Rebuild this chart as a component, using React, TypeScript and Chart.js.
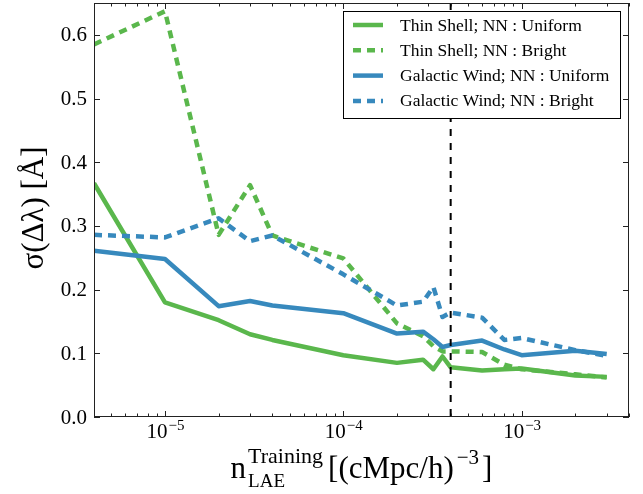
import { useEffect, useRef } from "react";
import { Chart, registerables } from "chart.js";

Chart.register(...registerables);

// ---- data ----
const densities = [4e-6, 1e-5, 2e-5, 3e-5, 4e-5, 1e-4, 2e-4, 2.8e-4, 3.2e-4, 3.6e-4, 4e-4, 6e-4, 8e-4, 1e-3, 2e-3, 3e-3];
const thinShellUniform = [0.367, 0.180, 0.152, 0.130, 0.121, 0.097, 0.085, 0.090, 0.075, 0.095, 0.078, 0.073, 0.075, 0.076, 0.065, 0.063];
const thinShellBright = [0.585, 0.637, 0.286, 0.364, 0.285, 0.249, 0.147, 0.127, 0.111, 0.103, 0.103, 0.102, 0.082, 0.075, 0.067, 0.062];
const galacticWindUniform = [0.261, 0.248, 0.174, 0.182, 0.175, 0.163, 0.131, 0.134, 0.122, 0.110, 0.113, 0.120, 0.106, 0.097, 0.104, 0.099];
const galacticWindBright = [0.286, 0.282, 0.312, 0.276, 0.285, 0.224, 0.175, 0.181, 0.204, 0.157, 0.164, 0.156, 0.121, 0.124, 0.105, 0.096];
const seriesLabels = [
  "Thin Shell; NN : Uniform",
  "Thin Shell; NN : Bright",
  "Galactic Wind; NN : Uniform",
  "Galactic Wind; NN : Bright",
];
const yTickValues = [0, 0.1, 0.2, 0.3, 0.4, 0.5, 0.6];
const xMajorTicks = [1e-5, 1e-4, 1e-3];
const xTickExponents = ["\u22125", "\u22124", "\u22123"];
const fiducialDensity = 4e-4;

const GREEN = "#5ab74c";
const BLUE = "#3789bd";
const FONT = '"Liberation Serif", "Times New Roman", serif';

const toPoints = (ys: number[]) => densities.map((x, i) => ({ x, y: ys[i] }));

const decorPlugin = {
  id: "decor",
  afterDatasetsDraw(chart: any) {
    const { ctx, chartArea: a, scales } = chart;
    const xs = scales.x;
    const ys = scales.y;
    ctx.save();
    // fiducial vertical dashed line
    const vx = xs.getPixelForValue(fiducialDensity);
    ctx.beginPath();
    ctx.setLineDash([7, 7]);
    ctx.lineWidth = 2;
    ctx.strokeStyle = "#000";
    ctx.moveTo(vx, a.top);
    ctx.lineTo(vx, a.bottom);
    ctx.stroke();
    ctx.setLineDash([]);

    // frame
    ctx.lineWidth = 1;
    ctx.strokeStyle = "#222";
    ctx.strokeRect(Math.round(a.left) + 0.5, Math.round(a.top) + 0.5, Math.round(a.right - a.left) - 1, Math.round(a.bottom - a.top) - 1);

    // y ticks (inward, both sides)
    ctx.beginPath();
    for (const v of yTickValues) {
      const y = Math.round(ys.getPixelForValue(v)) + 0.5;
      ctx.moveTo(a.left, y);
      ctx.lineTo(a.left + 6, y);
      ctx.moveTo(a.right, y);
      ctx.lineTo(a.right - 6, y);
    }
    // x ticks (major + minor), inward top and bottom
    const lo = Math.floor(Math.log10(xs.min));
    const hi = Math.ceil(Math.log10(xs.max));
    for (let e = lo; e <= hi; e++) {
      for (let m = 1; m <= 9; m++) {
        const v = m * Math.pow(10, e);
        if (v < xs.min * 0.999 || v > xs.max * 1.001) continue;
        const len = m === 1 ? 6 : 3.5;
        const x = Math.round(xs.getPixelForValue(v)) + 0.5;
        ctx.moveTo(x, a.bottom);
        ctx.lineTo(x, a.bottom - len);
        ctx.moveTo(x, a.top);
        ctx.lineTo(x, a.top + len);
      }
    }
    ctx.stroke();

    // y tick labels
    ctx.fillStyle = "#000";
    ctx.font = `21px ${FONT}`;
    ctx.textAlign = "right";
    ctx.textBaseline = "middle";
    for (const v of yTickValues) {
      ctx.fillText(v.toFixed(1), a.left - 7, ys.getPixelForValue(v) + 1);
    }

    // x tick labels: 10^exp
    ctx.textAlign = "left";
    ctx.textBaseline = "alphabetic";
    xMajorTicks.forEach((v, i) => {
      const x = xs.getPixelForValue(v);
      ctx.font = `21px ${FONT}`;
      const w1 = ctx.measureText("10").width;
      ctx.font = `15px ${FONT}`;
      const w2 = ctx.measureText(xTickExponents[i]).width;
      const start = x - (w1 + w2) / 2;
      ctx.font = `21px ${FONT}`;
      ctx.fillText("10", start, a.bottom + 21);
      ctx.font = `15px ${FONT}`;
      ctx.fillText(xTickExponents[i], start + w1 + 1, a.bottom + 13);
    });

    // x axis title: n_LAE^Training [(cMpc/h)^-3]
    ctx.font = `31px ${FONT}`;
    const wN = ctx.measureText("n").width;
    ctx.font = `22px ${FONT}`;
    const wSup = ctx.measureText("Training").width;
    ctx.font = `19px ${FONT}`;
    const wSub = ctx.measureText("LAE").width;
    ctx.font = `31px ${FONT}`;
    const wMain = ctx.measureText("[(cMpc/h)").width;
    ctx.font = `21px ${FONT}`;
    const wExp = ctx.measureText("\u22123").width;
    ctx.font = `31px ${FONT}`;
    const wEnd = ctx.measureText("]").width;
    const gap = 2;
    const total = wN + gap + Math.max(wSup, wSub) + 5 + wMain + 3 + wExp + 3 + wEnd;
    let cx = (a.left + a.right) / 2 - total / 2;
    const base = a.bottom + 61;
    ctx.font = `31px ${FONT}`;
    ctx.fillText("n", cx, base);
    cx += wN + gap;
    ctx.font = `22px ${FONT}`;
    ctx.fillText("Training", cx, base - 15);
    ctx.font = `19px ${FONT}`;
    ctx.fillText("LAE", cx, base + 9);
    cx += Math.max(wSup, wSub) + 5;
    ctx.font = `31px ${FONT}`;
    ctx.fillText("[(cMpc/h)", cx, base);
    cx += wMain + 3;
    ctx.font = `21px ${FONT}`;
    ctx.fillText("\u22123", cx, base - 14);
    cx += wExp + 3;
    ctx.font = `31px ${FONT}`;
    ctx.fillText("]", cx, base);

    // y axis title
    ctx.save();
    ctx.translate(a.left - 51, (a.top + a.bottom) / 2 - 2);
    ctx.rotate(-Math.PI / 2);
    ctx.font = `31px ${FONT}`;
    ctx.textAlign = "center";
    ctx.fillText("\u03c3(\u0394\u03bb) [\u00c5]", 0, 0);
    ctx.restore();
    ctx.restore();
  },
  afterDraw(chart: any) {
    const { ctx, chartArea: a } = chart;
    ctx.save();
    const bx = a.right - 286;
    const by = a.top + 8;
    const bw = 277;
    const bh = 107;
    ctx.fillStyle = "#fff";
    ctx.fillRect(bx, by, bw, bh);
    ctx.strokeStyle = "#000";
    ctx.lineWidth = 1;
    ctx.strokeRect(Math.round(bx) + 0.5, Math.round(by) + 0.5, bw, bh);
    // fit legend font so the widest label spans ~212px
    let size = 20;
    const labels: string[] = chart.data.datasets.map((d: any) => d.label);
    for (; size > 14; size -= 0.25) {
      ctx.font = `${size}px ${FONT}`;
      const w = Math.max(...labels.map((l) => ctx.measureText(l).width));
      if (w <= 212) break;
    }
    chart.data.datasets.forEach((ds: any, i: number) => {
      const y = by + 14 + i * 25.3;
      ctx.beginPath();
      ctx.strokeStyle = ds.borderColor;
      ctx.lineWidth = ds.borderWidth;
      ctx.lineCap = "butt";
      ctx.setLineDash(ds.borderDash || []);
      ctx.moveTo(bx + 10, y);
      ctx.lineTo(bx + 40, y);
      ctx.stroke();
      ctx.setLineDash([]);
      ctx.fillStyle = "#000";
      ctx.font = `${size}px ${FONT}`;
      ctx.textAlign = "left";
      ctx.textBaseline = "middle";
      ctx.fillText(ds.label, bx + 57, y + 1);
    });
    ctx.restore();
  },
};

export default function App() {
  const canvasRef = useRef<HTMLCanvasElement | null>(null);
  useEffect(() => {
    if (!canvasRef.current) return;
    const mk = (i: number, ys: number[], color: string, dashed: boolean, order: number) => ({
      label: seriesLabels[i],
      data: toPoints(ys),
      borderColor: color,
      backgroundColor: color,
      borderWidth: 4.5,
      borderDash: dashed ? [8, 6] : [],
      borderJoinStyle: "round" as const,
      borderCapStyle: "butt" as const,
      pointRadius: 0,
      fill: false,
      tension: 0,
      order,
    });
    const chart = new Chart(canvasRef.current, {
      type: "line",
      data: {
        datasets: [
          mk(0, thinShellUniform, GREEN, false, 4),
          mk(1, thinShellBright, GREEN, true, 3),
          mk(2, galacticWindUniform, BLUE, false, 2),
          mk(3, galacticWindBright, BLUE, true, 1),
        ],
      },
      options: {
        animation: false,
        responsive: false,
        devicePixelRatio: 1,
        layout: { padding: { left: 0, top: 3, right: 14, bottom: 0 } },
        plugins: { legend: { display: false }, tooltip: { enabled: false } },
        scales: {
          x: {
            type: "logarithmic",
            min: 4e-6,
            max: 4e-3,
            grid: { display: false, drawTicks: false },
            border: { display: false },
            ticks: { display: false },
            afterFit: (s: any) => {
              s.height = 77;
            },
          },
          y: {
            type: "linear",
            min: 0,
            max: 0.65,
            grid: { display: false, drawTicks: false },
            border: { display: false },
            ticks: { display: false },
            afterFit: (s: any) => {
              s.width = 94;
            },
          },
        },
      },
      plugins: [decorPlugin],
    });
    return () => chart.destroy();
  }, []);
  return (
    <div style={{ position: "absolute", left: 0, top: 0, width: 643, height: 494, background: "#fff" }}>
      <canvas ref={canvasRef} width={643} height={494} style={{ display: "block" }} />
    </div>
  );
}
